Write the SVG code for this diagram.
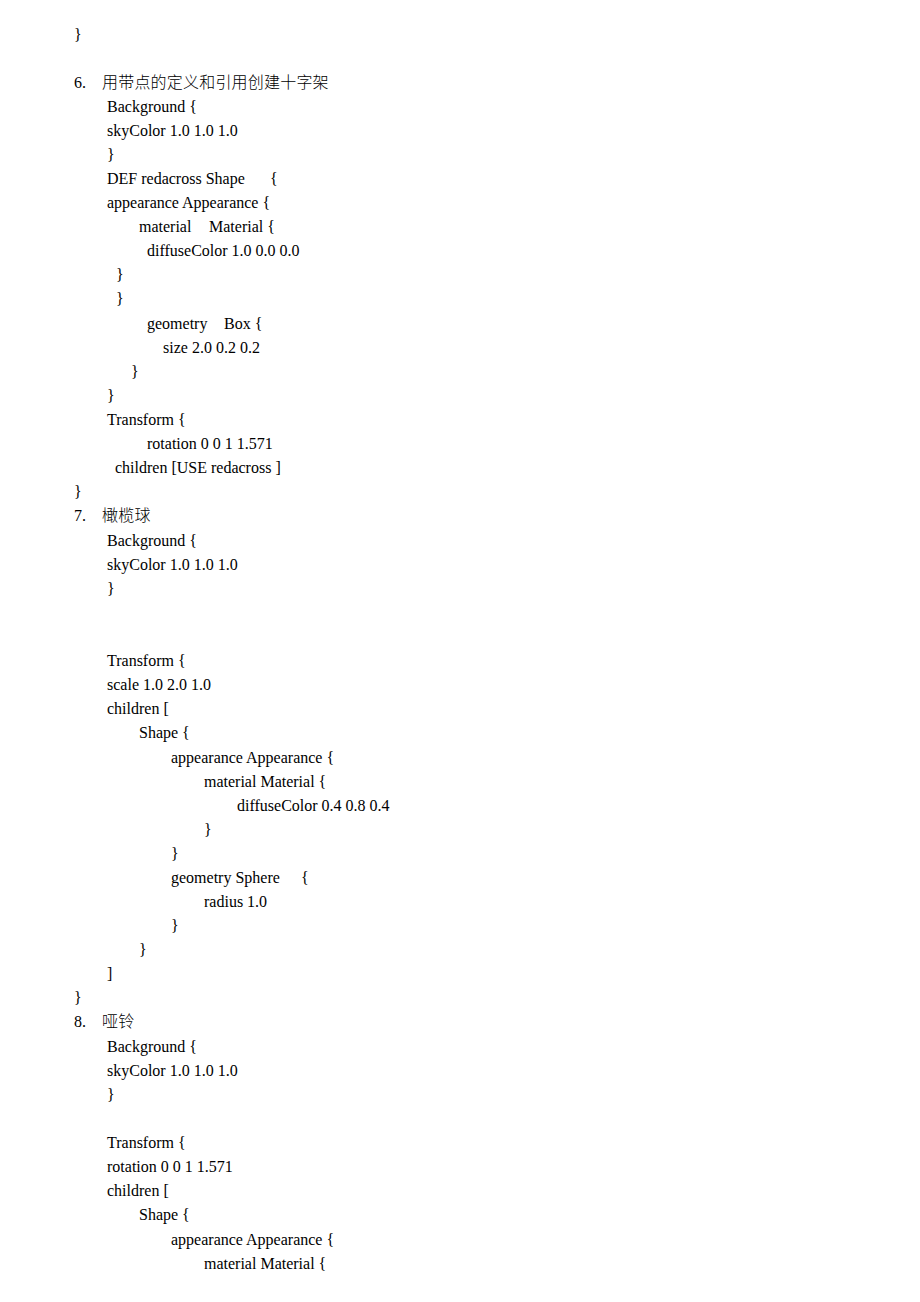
<svg xmlns="http://www.w3.org/2000/svg" width="920" height="1302" viewBox="0 0 920 1302">
<style>
text{font-family:"Liberation Serif","Times New Roman",serif;font-size:16px;fill:#000}
.cjk{font-family:"Noto Sans CJK SC",serif;font-weight:300;letter-spacing:0.2px}
</style>
<rect width="920" height="1302" fill="#fff"/>
<g id="top">
<text x="74" y="40">}</text>
</g>
<g id="section6">
<text x="74" y="88">6.</text>
<text class="cjk" x="102" y="88">用带点的定义和引用创建十字架</text>
<text x="107" y="112">Background {</text>
<text x="107" y="136">skyColor 1.0 1.0 1.0</text>
<text x="107" y="160">}</text>
<text x="107" y="184">DEF redacross Shape</text>
<text x="270" y="184">{</text>
<text x="107" y="208">appearance Appearance {</text>
<text x="139" y="232">material</text>
<text x="209" y="232">Material {</text>
<text x="147" y="256">diffuseColor 1.0 0.0 0.0</text>
<text x="116" y="280">}</text>
<text x="116" y="304">}</text>
<text x="147" y="329">geometry</text>
<text x="224" y="329">Box {</text>
<text x="163" y="353">size 2.0 0.2 0.2</text>
<text x="131" y="377">}</text>
<text x="107" y="401">}</text>
<text x="107" y="425">Transform {</text>
<text x="147" y="449">rotation 0 0 1 1.571</text>
<text x="115" y="473">children [USE redacross ]</text>
<text x="74" y="497">}</text>
</g>
<g id="section7">
<text x="74" y="521">7.</text>
<text class="cjk" x="102" y="521">橄榄球</text>
<text x="107" y="546">Background {</text>
<text x="107" y="570">skyColor 1.0 1.0 1.0</text>
<text x="107" y="594">}</text>
<text x="107" y="666">Transform {</text>
<text x="107" y="690">scale 1.0 2.0 1.0</text>
<text x="107" y="714">children [</text>
<text x="139" y="738">Shape {</text>
<text x="171" y="763">appearance Appearance {</text>
<text x="204" y="787">material Material {</text>
<text x="237" y="811">diffuseColor 0.4 0.8 0.4</text>
<text x="204" y="835">}</text>
<text x="171" y="859">}</text>
<text x="171" y="883">geometry Sphere</text>
<text x="301" y="883">{</text>
<text x="204" y="907">radius 1.0</text>
<text x="171" y="931">}</text>
<text x="139" y="955">}</text>
<text x="107" y="979">]</text>
<text x="74" y="1003">}</text>
</g>
<g id="section8">
<text x="74" y="1027">8.</text>
<text class="cjk" x="102" y="1027">哑铃</text>
<text x="107" y="1052">Background {</text>
<text x="107" y="1076">skyColor 1.0 1.0 1.0</text>
<text x="107" y="1100">}</text>
<text x="107" y="1148">Transform {</text>
<text x="107" y="1172">rotation 0 0 1 1.571</text>
<text x="107" y="1196">children [</text>
<text x="139" y="1220">Shape {</text>
<text x="171" y="1245">appearance Appearance {</text>
<text x="204" y="1269">material Material {</text>
</g>
</svg>
